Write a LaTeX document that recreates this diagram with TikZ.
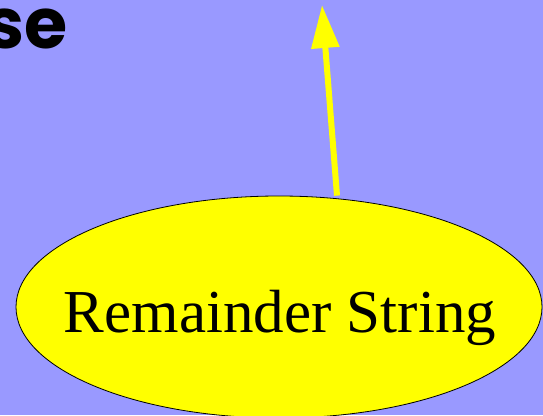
\documentclass[tikz,border=0pt]{standalone}
\usepackage{fontspec}
\setmainfont{Liberation Serif}
\newfontfamily\headfont{Poppins}
\usetikzlibrary{shapes.geometric,arrows.meta}
\definecolor{slidebg}{RGB}{153,153,255}
\definecolor{nodeyellow}{RGB}{255,255,0}
\begin{document}
\begin{tikzpicture}[x=1pt,y=-1pt,
  strnode/.style={ellipse,draw=black,line width=0.8pt,fill=nodeyellow,
    minimum width=526pt,minimum height=222pt,inner sep=0pt},
  flow/.style={draw=nodeyellow,line width=6pt,-{Triangle[length=43pt,width=27pt]}}]
  \fill[slidebg] (0,0) rectangle (543,415);
  \useasboundingbox (0,0) rectangle (543,415);
  \node[anchor=base east,font=\headfont\bfseries\fontsize{70}{70}\selectfont] (title) at (71,48) {se};
  \node[strnode] (rem) at (279,307) {};
  \node[anchor=base,font=\fontsize{61}{61}\selectfont] (remtext) at (280,332) {Remainder String};
  \coordinate (up) at (322,5);
  \draw[flow] ([xshift=58pt]rem.north) -- (up);
\end{tikzpicture}
\end{document}
